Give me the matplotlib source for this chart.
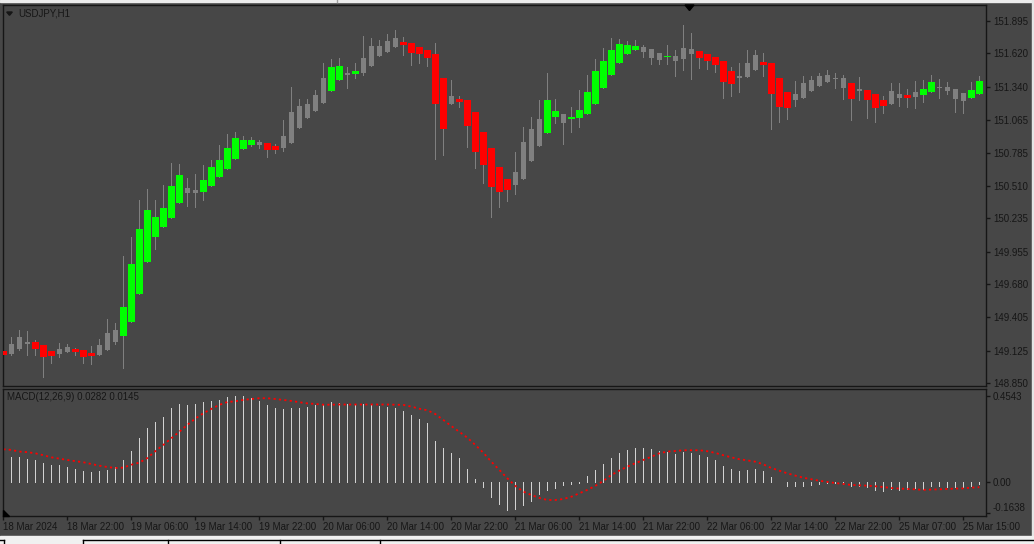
import numpy as np
import matplotlib.pyplot as plt
from matplotlib.patches import Rectangle, Polygon
from matplotlib.lines import Line2D

plt.rcParams['font.family'] = ['Liberation Sans', 'DejaVu Sans']

# USDJPY H1 candles, 18 Mar 2024 14:00 onwards
opens = [
    149.121, 149.095, 149.137, 149.199, 149.199, 149.168, 149.121, 149.098, 149.115, 149.137,
    149.129, 149.104, 149.087, 149.129, 149.196, 149.247, 149.364, 149.599, 149.868, 150.078,
    150.162, 150.238, 150.364, 150.490, 150.448, 150.456, 150.507, 150.582, 150.649, 150.733,
    150.817, 150.851, 150.876, 150.868, 150.843, 150.826, 150.868, 150.994, 151.078, 151.137,
    151.204, 151.305, 151.397, 151.456, 151.447, 151.456, 151.515, 151.683, 151.632, 151.674,
    151.716, 151.708, 151.674, 151.649, 151.615, 151.414, 151.195, 151.237, 151.229, 151.128,
    150.960, 150.826, 150.666, 150.565, 150.515, 150.565, 150.717, 150.843, 150.952, 151.086,
    151.111, 151.069, 151.078, 151.111, 151.195, 151.330, 151.439, 151.540, 151.615, 151.649,
    151.674, 151.657, 151.624, 151.590, 151.599, 151.573, 151.657, 151.641, 151.615, 151.590,
    151.557, 151.473, 151.414, 151.422, 151.481, 151.548, 151.540, 151.414, 151.296, 151.229,
    151.246, 151.305, 151.347, 151.380, 151.414, 151.414, 151.372, 151.305, 151.313, 151.279,
    151.229, 151.195, 151.279, 151.271, 151.254, 151.271, 151.296, 151.338, 151.338, 151.321,
    151.288, 151.246, 151.279]
highs = [
    149.199, 149.238, 149.297, 149.289, 149.213, 149.170, 149.123, 149.188, 149.179, 149.146,
    149.131, 149.163, 149.221, 149.389, 149.356, 149.919, 150.078, 150.389, 150.481, 150.389,
    150.515, 150.700, 150.691, 150.574, 150.607, 150.683, 150.725, 150.851, 150.943, 150.960,
    150.927, 150.918, 150.893, 150.870, 150.859, 151.061, 151.338, 151.237, 151.237, 151.313,
    151.540, 151.573, 151.582, 151.506, 151.540, 151.767, 151.750, 151.733, 151.783, 151.817,
    151.758, 151.710, 151.676, 151.651, 151.708, 151.416, 151.397, 151.263, 151.231, 151.130,
    150.962, 150.828, 150.668, 150.567, 150.792, 151.002, 151.086, 151.229, 151.456, 151.237,
    151.113, 151.170, 151.313, 151.439, 151.573, 151.666, 151.750, 151.741, 151.725, 151.733,
    151.691, 151.659, 151.626, 151.691, 151.649, 151.859, 151.792, 151.643, 151.617, 151.592,
    151.559, 151.506, 151.540, 151.649, 151.649, 151.624, 151.542, 151.416, 151.298, 151.389,
    151.431, 151.431, 151.456, 151.481, 151.456, 151.439, 151.374, 151.422, 151.315, 151.281,
    151.263, 151.372, 151.372, 151.321, 151.389, 151.397, 151.439, 151.405, 151.380, 151.323,
    151.290, 151.380, 151.431]
lows = [
    148.995, 149.090, 149.132, 149.087, 149.087, 148.905, 149.022, 149.070, 149.113, 149.087,
    149.022, 149.011, 149.085, 149.127, 149.179, 148.978, 149.362, 149.597, 149.866, 149.977,
    150.160, 150.236, 150.362, 150.339, 150.330, 150.389, 150.505, 150.580, 150.647, 150.731,
    150.815, 150.843, 150.826, 150.750, 150.784, 150.801, 150.866, 150.992, 151.076, 151.135,
    151.202, 151.303, 151.395, 151.330, 151.414, 151.439, 151.513, 151.597, 151.630, 151.672,
    151.607, 151.523, 151.540, 151.515, 150.733, 150.767, 151.193, 151.170, 150.834, 150.658,
    150.532, 150.246, 150.330, 150.381, 150.439, 150.563, 150.715, 150.841, 150.950, 151.036,
    150.859, 150.960, 151.002, 151.109, 151.193, 151.328, 151.437, 151.538, 151.613, 151.647,
    151.590, 151.531, 151.531, 151.531, 151.431, 151.481, 151.405, 151.498, 151.489, 151.464,
    151.246, 151.263, 151.296, 151.420, 151.479, 151.431, 150.985, 151.044, 151.069, 151.179,
    151.244, 151.303, 151.345, 151.378, 151.330, 151.237, 151.061, 151.229, 151.078, 151.044,
    151.120, 151.193, 151.179, 151.170, 151.162, 151.212, 151.294, 151.246, 151.279, 151.128,
    151.120, 151.244, 151.277]
closes = [
    149.087, 149.179, 149.238, 149.182, 149.137, 149.070, 149.081, 149.137, 149.154, 149.115,
    149.070, 149.081, 149.171, 149.272, 149.297, 149.490, 149.851, 150.145, 150.305, 150.246,
    150.322, 150.507, 150.599, 150.448, 150.473, 150.557, 150.666, 150.725, 150.826, 150.910,
    150.893, 150.893, 150.851, 150.809, 150.809, 150.927, 151.128, 151.179, 151.195, 151.271,
    151.414, 151.506, 151.515, 151.439, 151.473, 151.582, 151.683, 151.599, 151.725, 151.750,
    151.691, 151.624, 151.615, 151.582, 151.195, 150.985, 151.263, 151.212, 151.011, 150.792,
    150.683, 150.498, 150.456, 150.473, 150.624, 150.876, 150.985, 151.069, 151.229, 151.137,
    151.036, 151.086, 151.145, 151.296, 151.473, 151.557, 151.649, 151.699, 151.691, 151.683,
    151.632, 151.582, 151.565, 151.599, 151.557, 151.666, 151.615, 151.582, 151.557, 151.523,
    151.380, 151.363, 151.431, 151.540, 151.607, 151.523, 151.279, 151.170, 151.162, 151.279,
    151.372, 151.397, 151.431, 151.439, 151.405, 151.330, 151.237, 151.321, 151.229, 151.162,
    151.179, 151.305, 151.246, 151.246, 151.296, 151.321, 151.380, 151.330, 151.305, 151.237,
    151.221, 151.313, 151.389]

# overlay signal per bar: g = bull, r = bear, n = none
signal = ("rnnnrrrnnr" "rrnnnggggg" "gggnnggggg" "ggnrrnnnnn" "nggngnnnnn"
          "rrrrrrnrrr" "rrrrnnnngg" "nggggggggg" "nnngnnnrrr" "rrnnnrrrrn"
          "nnnnnnrnrr" "rnnrnggnnn" "ngg")

# MACD(12,26,9) main histogram and signal line
macd_main = [
    0.133, 0.133, 0.133, 0.122, 0.115, 0.101, 0.091, 0.091, 0.080, 0.070,
    0.059, 0.054, 0.059, 0.066, 0.080, 0.117, 0.164, 0.232, 0.286, 0.316,
    0.343, 0.390, 0.411, 0.407, 0.411, 0.421, 0.425, 0.432, 0.449, 0.453,
    0.453, 0.442, 0.428, 0.406, 0.390, 0.385, 0.390, 0.390, 0.395, 0.404,
    0.411, 0.421, 0.414, 0.411, 0.404, 0.411, 0.407, 0.400, 0.397, 0.390,
    0.374, 0.353, 0.332, 0.311, 0.217, 0.180, 0.154, 0.127, 0.070, 0.017,
    -0.025, -0.077, -0.114, -0.145, -0.140, -0.119, -0.098, -0.061, -0.040, -0.030,
    -0.014, -0.009, -0.004, 0.033, 0.065, 0.096, 0.127, 0.154, 0.169, 0.180,
    0.180, 0.175, 0.164, 0.159, 0.148, 0.159, 0.154, 0.143, 0.133, 0.117,
    0.086, 0.070, 0.059, 0.065, 0.070, 0.059, 0.028, 0.001, -0.019, -0.019,
    -0.019, -0.014, -0.009, -0.004, -0.004, -0.009, -0.019, -0.019, -0.025, -0.040,
    -0.046, -0.035, -0.040, -0.035, -0.030, -0.035, -0.019, -0.019, -0.025, -0.025,
    -0.025, -0.019, -0.009]
macd_signal = [
    0.173, 0.170, 0.161, 0.158, 0.152, 0.142, 0.131, 0.124, 0.117, 0.111,
    0.105, 0.096, 0.087, 0.080, 0.075, 0.077, 0.092, 0.103, 0.127, 0.163,
    0.196, 0.231, 0.265, 0.301, 0.334, 0.362, 0.385, 0.406, 0.421, 0.425,
    0.432, 0.437, 0.441, 0.441, 0.437, 0.432, 0.427, 0.420, 0.414, 0.411,
    0.407, 0.407, 0.408, 0.408, 0.408, 0.408, 0.408, 0.408, 0.408, 0.407,
    0.406, 0.397, 0.386, 0.378, 0.358, 0.327, 0.295, 0.265, 0.234, 0.196,
    0.155, 0.108, 0.065, 0.021, -0.019, -0.049, -0.067, -0.082, -0.093, -0.093,
    -0.088, -0.076, -0.058, -0.040, -0.019, 0.007, 0.038, 0.061, 0.082, 0.100,
    0.117, 0.134, 0.152, 0.161, 0.164, 0.168, 0.168, 0.168, 0.163, 0.154,
    0.142, 0.131, 0.121, 0.115, 0.108, 0.094, 0.075, 0.061, 0.047, 0.035,
    0.024, 0.016, 0.008, 0.002, -0.004, -0.009, -0.014, -0.016, -0.018, -0.021,
    -0.025, -0.030, -0.033, -0.035, -0.037, -0.040, -0.038, -0.037, -0.035, -0.033,
    -0.032, -0.028, -0.026]

price_ticks = [151.895, 151.620, 151.340, 151.065, 150.785, 150.510,
               150.235, 149.955, 149.680, 149.405, 149.125, 148.850]
macd_ticks = [0.4543, 0.0, -0.1638]
macd_tick_labels = ['0.4543', '0.00', '-0.1638']
time_labels = ['18 Mar 2024', '18 Mar 22:00', '19 Mar 06:00', '19 Mar 14:00',
               '19 Mar 22:00', '20 Mar 06:00', '20 Mar 14:00', '20 Mar 22:00',
               '21 Mar 06:00', '21 Mar 14:00', '21 Mar 22:00', '22 Mar 06:00',
               '22 Mar 14:00', '22 Mar 22:00', '25 Mar 07:00', '25 Mar 15:00']

BG = '#474747'
FG = '#161616'
GRAY = '#808080'
GREEN = '#00ff00'
RED = '#ff0000'
W, H = 1034, 544
PX = 0.72  # one pixel in points at 100 dpi


def box(x0, y0, x1, y1):
    # pixel box, origin top-left -> figure rect
    return [x0 / W, 1 - y1 / H, (x1 - x0) / W, (y1 - y0) / H]


def fp(x, y):
    return (x / W, 1 - y / H)


fig = plt.figure(figsize=(W / 100, H / 100), dpi=100, facecolor=BG)
ax = fig.add_axes(box(3, 5, 986, 386))
mx = fig.add_axes(box(3, 388.7, 986, 516))

for a in (ax, mx):
    a.set_facecolor(BG)
    for s in a.spines.values():
        s.set_color(FG)
        s.set_linewidth(1)
    a.set_xlim(-0.04, 122.84)

# price candles: gray candle first, coloured signal bar on top
idx = np.arange(len(opens))
o = np.array(opens)
c = np.array(closes)
top = np.maximum(o, c)
bot = np.minimum(o, c)
hgt = np.maximum(top - bot, 0.009)
ax.vlines(idx, lows, highs, color=GRAY, lw=PX, antialiased=False, zorder=1)
ax.bar(idx, hgt, bottom=bot, width=0.62, color=GRAY, lw=0, zorder=2)
sig = np.array(list(signal))
for key, col in (('g', GREEN), ('r', RED)):
    m = sig == key
    ax.bar(idx[m], hgt[m], bottom=bot[m], width=0.87, color=col, lw=0, zorder=3)

ax.set_ylim(148.827, 152.027)
ax.set_xticks([])
ax.yaxis.tick_right()
ax.set_yticks(price_ticks)
ax.set_yticklabels([f'{p:.3f}' for p in price_ticks])
ax.tick_params(axis='y', direction='out', length=3, width=1, color=FG,
               labelcolor=FG, labelsize=7, pad=2)

# MACD window
mx.vlines(idx, 0, macd_main, color='#d2d2d2', lw=PX, antialiased=False)
mx.plot(idx, macd_signal, color=RED, lw=1.3, linestyle=(0, (1.2, 1.8)))
mx.set_ylim(-0.177, 0.491)
mx.yaxis.tick_right()
mx.set_yticks(macd_ticks)
mx.set_yticklabels(macd_tick_labels)
mx.get_yticklabels()[-1].set_va('bottom')
mx.set_xticks(np.arange(0, len(time_labels) * 8, 8))
mx.set_xticklabels(time_labels, ha='left')
mx.tick_params(direction='out', length=3, width=1, color=FG,
               labelcolor=FG, labelsize=7, pad=2)
mx.tick_params(axis='x', pad=1.5)

# captions
fig.text(18 / W, 1 - 13 / H, 'USDJPY,H1', color=FG, fontsize=7, va='center')
fig.text(7 / W, 1 - 397 / H, 'MACD(12,26,9) 0.0282 0.0145', color=FG,
         fontsize=7, va='center')

# small terminal markers
fig.patches.append(Polygon([fp(6.7, 12), fp(12.3, 12), fp(9.5, 15.3)],
                           closed=True, color=FG, transform=fig.transFigure))
fig.patches.append(Polygon([fp(685, 5), fp(694, 5), fp(689.5, 10.5)],
                           closed=True, color='#000000', transform=fig.transFigure))
fig.patches.append(Polygon([fp(3, 510), fp(3, 516), fp(9, 516)],
                           closed=True, color='#000000', transform=fig.transFigure))

# window chrome: top edge, right edge, tab strip
fig.patches.append(Rectangle(fp(0, 1.5), 1, 1.5 / H, color='#ececec',
                             transform=fig.transFigure))
fig.patches.append(Rectangle(fp(1031.5, H), 2.5 / W, 1, color='#e6e6e6',
                             transform=fig.transFigure))
fig.patches.append(Rectangle(fp(0, H), 1, 8.5 / H, color='#f0f0f0',
                             transform=fig.transFigure))
fig.lines.append(Line2D([337 / W, 337 / W], [1, 1 - 2 / H], color='#a0a0a0',
                        lw=1, transform=fig.transFigure))
fig.lines.append(Line2D([83 / W, 1], [1 - 539.5 / H] * 2, color='#000000',
                        lw=1, transform=fig.transFigure))
fig.lines.append(Line2D([0, 4 / W], [1 - 539.5 / H] * 2, color='#000000',
                        lw=1, transform=fig.transFigure))
for xt in (4, 83, 168, 280, 380):
    fig.lines.append(Line2D([xt / W] * 2, [1 - 539.5 / H, 0], color='#000000',
                            lw=1, transform=fig.transFigure))

fig.savefig('out.png', dpi=100, facecolor=BG)
